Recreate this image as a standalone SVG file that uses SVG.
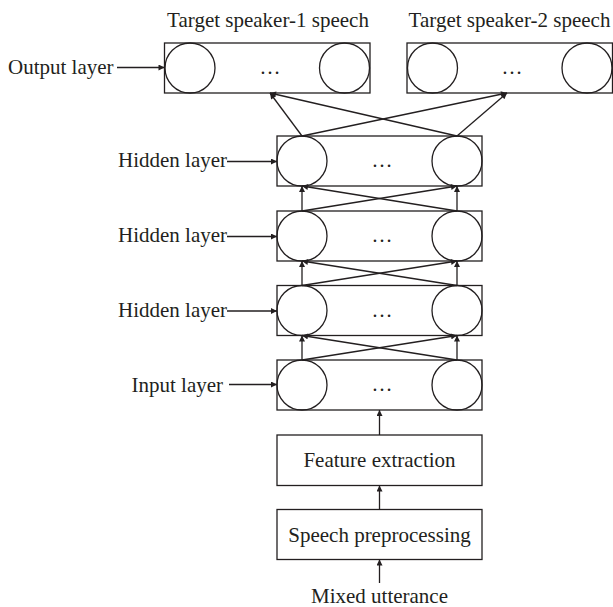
<svg xmlns="http://www.w3.org/2000/svg" width="613" height="607" viewBox="0 0 613 607">
  <style>
    text { font-family: "Liberation Serif", "Times New Roman", serif; font-size: 21px; fill: #231f20; }
    .mid { text-anchor: middle; }
    .box { fill: #fff; stroke: #231f20; stroke-width: 1.3; }
    .unit { fill: none; stroke: #231f20; stroke-width: 1.3; }
    .edge { fill: none; stroke: #231f20; stroke-width: 1.3; marker-end: url(#arrow); }
  </style>
  <defs>
    <marker id="arrow" viewBox="0 0 10 10" refX="10" refY="5" markerUnits="userSpaceOnUse" markerWidth="8" markerHeight="6" orient="auto">
      <path d="M0,0 L10,5 L0,10 Z" fill="#231f20"/>
    </marker>
  </defs>

  <rect width="613" height="607" fill="#fff"/>

  <!-- layer boxes with their units -->
  <g id="output-1">
    <rect class="box" x="164.5" y="43" width="205.5" height="50"/>
    <circle class="unit" cx="190" cy="68" r="25"/>
    <circle class="unit" cx="344.5" cy="68" r="25"/>
    <text class="mid" x="270" y="74">…</text>
    <text class="mid" x="268" y="27">Target speaker-1 speech</text>
  </g>
  <g id="output-2">
    <rect class="box" x="407" y="43" width="205.5" height="50"/>
    <circle class="unit" cx="432.5" cy="68" r="25"/>
    <circle class="unit" cx="587" cy="68" r="25"/>
    <text class="mid" x="512" y="74">…</text>
    <text class="mid" x="509.5" y="27">Target speaker-2 speech</text>
  </g>
  <g id="hidden-1">
    <rect class="box" x="277" y="136" width="205" height="50"/>
    <circle class="unit" cx="302" cy="161" r="25"/>
    <circle class="unit" cx="457" cy="161" r="25"/>
    <text class="mid" x="382" y="167">…</text>
  </g>
  <g id="hidden-2">
    <rect class="box" x="277" y="211" width="205" height="50"/>
    <circle class="unit" cx="302" cy="236" r="25"/>
    <circle class="unit" cx="457" cy="236" r="25"/>
    <text class="mid" x="382" y="242">…</text>
  </g>
  <g id="hidden-3">
    <rect class="box" x="277" y="285.5" width="205" height="50"/>
    <circle class="unit" cx="302" cy="310.5" r="25"/>
    <circle class="unit" cx="457" cy="310.5" r="25"/>
    <text class="mid" x="382" y="316.5">…</text>
  </g>
  <g id="input">
    <rect class="box" x="277" y="360" width="205" height="50"/>
    <circle class="unit" cx="302" cy="385" r="25"/>
    <circle class="unit" cx="457" cy="385" r="25"/>
    <text class="mid" x="382" y="391">…</text>
  </g>
  <g id="feature-extraction">
    <rect class="box" x="277" y="435" width="205" height="50.5"/>
    <text class="mid" x="379.5" y="467">Feature extraction</text>
  </g>
  <g id="speech-preprocessing">
    <rect class="box" x="277" y="509.5" width="205" height="50"/>
    <text class="mid" x="379.5" y="542">Speech preprocessing</text>
  </g>

  <!-- side labels -->
  <g id="labels">
    <text x="8" y="74">Output layer</text>
    <text x="118" y="167">Hidden layer</text>
    <text x="118" y="242">Hidden layer</text>
    <text x="118" y="316.5">Hidden layer</text>
    <text x="131.5" y="392">Input layer</text>
    <text class="mid" x="379.5" y="603">Mixed utterance</text>
  </g>

  <g id="connectors">
    <!-- label pointers -->
    <line class="edge" x1="117" y1="67.5" x2="164.5" y2="67.5"/>
    <line class="edge" x1="227" y1="161.5" x2="277" y2="161.5"/>
    <line class="edge" x1="227" y1="236.5" x2="277" y2="236.5"/>
    <line class="edge" x1="227" y1="311" x2="277" y2="311"/>
    <line class="edge" x1="229" y1="384.5" x2="277" y2="384.5"/>

    <!-- pipeline -->
    <line class="edge" x1="379.5" y1="583" x2="379.5" y2="559.5"/>
    <line class="edge" x1="379.5" y1="509.5" x2="379.5" y2="485.5"/>
    <line class="edge" x1="379.5" y1="435" x2="379.5" y2="410"/>

    <!-- input to hidden-3 -->
    <line class="edge" x1="302" y1="360" x2="302" y2="335.5"/>
    <line class="edge" x1="457" y1="360" x2="457" y2="335.5"/>
    <line class="edge" x1="302" y1="360" x2="457" y2="335.5"/>
    <line class="edge" x1="457" y1="360" x2="302" y2="335.5"/>

    <!-- hidden-3 to hidden-2 -->
    <line class="edge" x1="302" y1="285.5" x2="302" y2="261"/>
    <line class="edge" x1="457" y1="285.5" x2="457" y2="261"/>
    <line class="edge" x1="302" y1="285.5" x2="457" y2="261"/>
    <line class="edge" x1="457" y1="285.5" x2="302" y2="261"/>

    <!-- hidden-2 to hidden-1 -->
    <line class="edge" x1="302" y1="211" x2="302" y2="186"/>
    <line class="edge" x1="457" y1="211" x2="457" y2="186"/>
    <line class="edge" x1="302" y1="211" x2="457" y2="186"/>
    <line class="edge" x1="457" y1="211" x2="302" y2="186"/>

    <!-- hidden-1 to outputs -->
    <line class="edge" x1="302" y1="136" x2="270" y2="93"/>
    <line class="edge" x1="457" y1="136" x2="270" y2="93"/>
    <line class="edge" x1="302" y1="136" x2="507" y2="93"/>
    <line class="edge" x1="457" y1="136" x2="507" y2="93"/>
  </g>
</svg>
